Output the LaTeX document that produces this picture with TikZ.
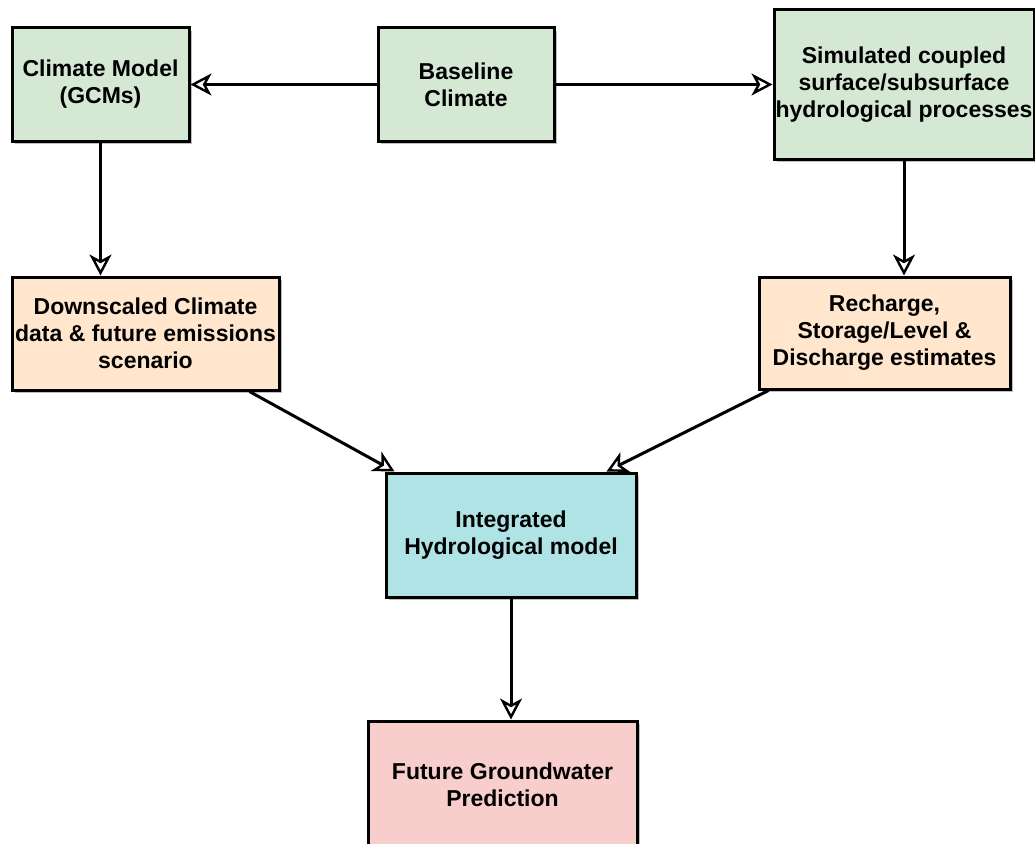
\documentclass[tikz,border=0pt]{standalone}
\usepackage{fontspec}
\setmainfont{Liberation Sans}
\usetikzlibrary{arrows.meta,shadows}
\definecolor{boxgreen}{HTML}{D5E8D4}
\definecolor{boxorange}{HTML}{FFE6CC}
\definecolor{boxcyan}{HTML}{B0E3E6}
\definecolor{boxpink}{HTML}{F8CECC}
\begin{document}
\begin{tikzpicture}[
      x=1pt, y=-1pt,
      box/.style={rectangle, draw, line width=3pt, align=center, inner sep=0pt,
        font=\bfseries\fontsize{23}{27}\selectfont,
        drop shadow={shadow xshift=3pt, shadow yshift=-3pt, fill=black!25, opacity=1}},
      flow/.style={draw, line width=3pt,
        -{Stealth[open, length=21pt, width=22pt, inset=6pt, line width=2.4pt]}}
      ]
      \useasboundingbox (0,0) rectangle (1035,843);
      \node[box, fill=boxgreen, minimum width=177pt, minimum height=113pt] (gcm) at (100.5,84.5) {Climate Model\\(GCMs)};
      \node[box, fill=boxgreen, minimum width=176pt, minimum height=113pt] (base) at (466,84.5) {Baseline\\Climate};
      \node[box, fill=boxgreen, minimum width=260pt, minimum height=149pt] (sim) at (904,84.5) {Simulated coupled\\surface/subsurface\\hydrological processes};
      \node[box, fill=boxorange, minimum width=267pt, minimum height=113pt] (down) at (145.5,333.5) {Downscaled Climate\\data \& future emissions\\scenario};
      \node[box, fill=boxorange, minimum width=251pt, minimum height=112pt] (rech) at (884.5,333) {Recharge,\\Storage/Level \&\\Discharge estimates};
      \node[box, fill=boxcyan, minimum width=250pt, minimum height=124pt] (ihm) at (511,535) {Integrated\\Hydrological model};
      \node[box, fill=boxpink, minimum width=269pt, minimum height=128pt] (pred) at (502.5,785) {Future Groundwater\\Prediction};
      \draw[flow] (base.west) -- (gcm.east);
      \draw[flow] (base.east) -- (sim.west);
      \draw[flow] (gcm.south) -- (gcm.south |- down.north);
      \draw[flow] (sim.south) -- (sim.south |- rech.north);
      \draw[flow] ([xshift=-31pt]down.south east) -- ([xshift=10pt]ihm.north west);
      \draw[flow] ([xshift=11pt]rech.south west) -- ([xshift=-31pt]ihm.north east);
      \draw[flow] (ihm.south) -- (ihm.south |- pred.north);
    \end{tikzpicture}
\end{document}
